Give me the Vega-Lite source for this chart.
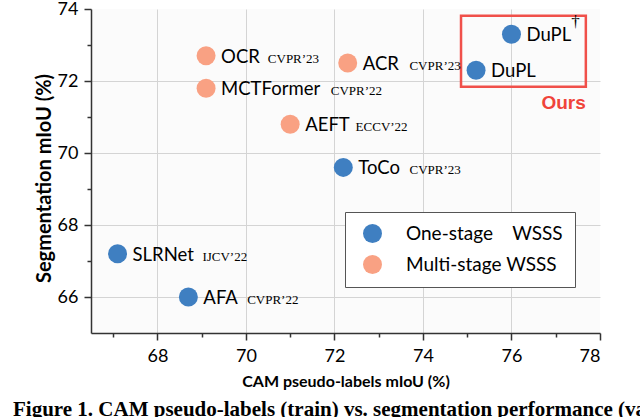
{
  "$schema": "https://vega.github.io/schema/vega-lite/v6.json",
  "width": 509,
  "height": 324,
  "autosize": {"type": "none"},
  "padding": {"left": 91, "top": 9, "right": 40, "bottom": 84},
  "background": "white",
  "config": {
    "font": "Lato",
    "view": {"fill": "#fbfbfb", "stroke": null}
  },
  "title": {
    "text": "Figure 1.  CAM pseudo-labels (train) vs. segmentation performance (val) on PASCAL VOC 2012.",
    "orient": "bottom",
    "anchor": "start",
    "dx": -21,
    "offset": 10,
    "font": "Liberation Serif",
    "fontSize": 21,
    "fontWeight": "bold",
    "color": "black"
  },
  "datasets": {
    "methods": [
      {"name": "DuPL", "venue": "†", "x": 76.0, "y": 73.3, "type": "One-stage WSSS"},
      {"name": "DuPL", "venue": "", "x": 75.2, "y": 72.3, "type": "One-stage WSSS"},
      {"name": "OCR", "venue": "CVPR’23", "x": 69.1, "y": 72.7, "type": "Multi-stage WSSS"},
      {"name": "ACR", "venue": "CVPR’23", "x": 72.3, "y": 72.5, "type": "Multi-stage WSSS"},
      {"name": "MCTFormer", "venue": "CVPR’22", "x": 69.1, "y": 71.8, "type": "Multi-stage WSSS"},
      {"name": "AEFT", "venue": "ECCV’22", "x": 71.0, "y": 70.8, "type": "Multi-stage WSSS"},
      {"name": "ToCo", "venue": "CVPR’23", "x": 72.2, "y": 69.6, "type": "One-stage WSSS"},
      {"name": "SLRNet", "venue": "IJCV’22", "x": 67.1, "y": 67.2, "type": "One-stage WSSS"},
      {"name": "AFA", "venue": "CVPR’22", "x": 68.7, "y": 66.0, "type": "One-stage WSSS"}
    ],
    "box": [
      {"x": 74.86, "x2": 77.68, "y": 71.84, "y2": 73.81}
    ],
    "ours": [
      {"x": 77.68, "y": 71.84, "label": "Ours"}
    ]
  },
  "encoding": {
    "x": {
      "field": "x", "type": "quantitative",
      "scale": {"domain": [66.5, 78], "nice": false, "zero": false},
      "axis": {
        "title": "CAM pseudo-labels mIoU (%)",
        "values": [67, 68, 69, 70, 71, 72, 73, 74, 75, 76, 77, 78],
        "labelExpr": "datum.value % 2 == 0 ? datum.label : ''",
        "grid": true,
        "gridColor": "#d4d4d4",
        "gridOpacity": {"condition": {"test": "datum.value % 2 != 0 || datum.value == 78", "value": 0}, "value": 1},
        "tickSize": {"condition": {"test": "datum.value % 2 != 0", "value": 4}, "value": 7},
        "domainColor": "#333", "tickColor": "#333", "domainWidth": 1.5, "tickWidth": 1.5,
        "labelFontSize": 18, "labelColor": "black", "labelPadding": 7,
        "titleFontSize": 16, "titleFontWeight": "bold", "titleColor": "black", "titlePadding": 8
      }
    },
    "y": {
      "field": "y", "type": "quantitative",
      "scale": {"domain": [65, 74], "nice": false, "zero": false},
      "axis": {
        "title": "Segmentation mIoU (%)",
        "values": [66, 67, 68, 69, 70, 71, 72, 73, 74],
        "labelExpr": "datum.value % 2 == 0 ? datum.label : ''",
        "grid": true,
        "gridColor": "#d4d4d4",
        "gridOpacity": {"condition": {"test": "datum.value % 2 != 0 || datum.value == 74", "value": 0}, "value": 1},
        "tickSize": {"condition": {"test": "datum.value % 2 != 0", "value": 4}, "value": 7},
        "domainColor": "#333", "tickColor": "#333", "domainWidth": 1.5, "tickWidth": 1.5,
        "labelFontSize": 18, "labelColor": "black", "labelPadding": 6,
        "titleFontSize": 20, "titleFontWeight": "bold", "titleColor": "black",
        "titleX": -47, "titleY": 169, "titleBaseline": "middle"
      }
    }
  },
  "layer": [
    {
      "data": {"name": "box"},
      "mark": {"type": "rect", "fill": null, "stroke": "#f0504a", "strokeWidth": 2.5},
      "encoding": {
        "x2": {"field": "x2"},
        "y2": {"field": "y2"}
      }
    },
    {
      "data": {"name": "ours"},
      "mark": {"type": "text", "align": "right", "baseline": "middle", "font": "Liberation Sans", "fontWeight": "bold", "fontSize": 19, "color": "#f0443a", "dy": 16},
      "encoding": {
        "text": {"field": "label"}
      }
    },
    {
      "data": {"name": "methods"},
      "mark": {"type": "point", "shape": "circle", "filled": true, "size": 360, "opacity": 1},
      "encoding": {
        "color": {
          "field": "type", "type": "nominal",
          "scale": {"domain": ["One-stage WSSS", "Multi-stage WSSS"], "range": ["#3f7fc1", "#f9a183"]},
          "legend": {
            "title": null,
            "orient": "none",
            "legendX": 254,
            "legendY": 203,
            "fillColor": "white",
            "strokeColor": "#555",
            "padding": 12,
            "symbolType": "circle",
            "symbolSize": 360,
            "symbolOffset": 6,
            "symbolStrokeWidth": 0,
            "labelFontSize": 19,
            "labelColor": "black",
            "labelOffset": 24,
            "rowPadding": 11,
            "labelExpr": "datum.label == 'One-stage WSSS' ? 'One-stage\u00a0\u00a0\u00a0 WSSS' : datum.label"
          }
        }
      }
    },
    {
      "data": {"name": "methods"},
      "mark": {"type": "text", "align": "left", "baseline": "alphabetic", "dx": 15, "dy": 7, "fontSize": 18.5, "font": "Lato", "color": "black"},
      "encoding": {
        "text": {"field": "name"}
      }
    },
    {
      "data": {"name": "methods"},
      "mark": {
        "type": "text", "align": "left", "baseline": "alphabetic",
        "font": "Liberation Serif", "color": "black",
        "fontSize": {"expr": "datum.venue == '†' ? 17 : 13"},
        "dx": {"expr": "(datum.venue == '†' ? 15 : 24) + 18.5 * (0.97 * length(replace(datum.name, regexp('[^MWmw]', 'g'), '')) + 0.52 * length(replace(datum.name, regexp('[^EFILST]', 'g'), '')) + 0.68 * length(replace(datum.name, regexp('[^A-DGHJKNOPQRUVXYZ]', 'g'), '')) + 0.35 * length(replace(datum.name, regexp('[^filrtj]', 'g'), '')) + 0.54 * length(replace(datum.name, regexp('[^a-ehkn-qsuvx-z]', 'g'), '')))"},
        "dy": {"expr": "datum.venue == '†' ? -7 : 7"}
      },
      "encoding": {
        "text": {"field": "venue"}
      }
    }
  ]
}
